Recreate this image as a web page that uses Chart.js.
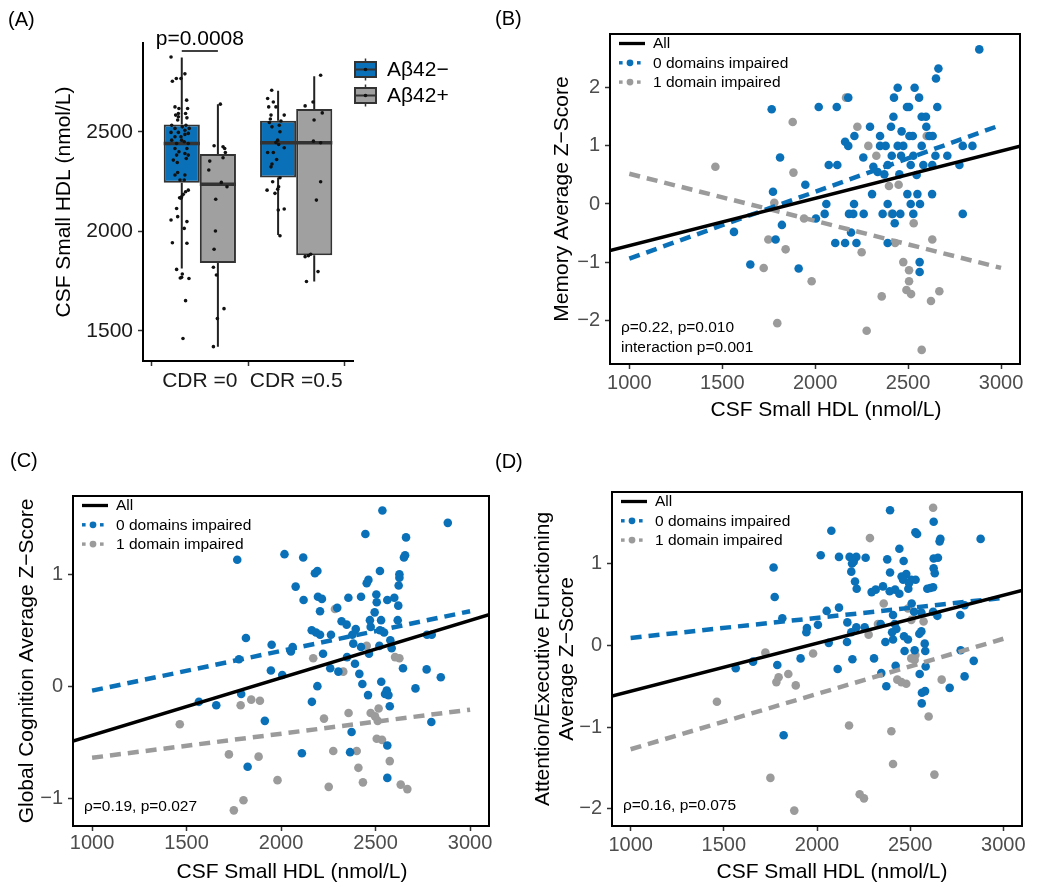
<!DOCTYPE html>
<html>
<head>
<meta charset="utf-8">
<title>CSF Small HDL</title>
<script src="https://cdn.jsdelivr.net/npm/chart.js@4.4.1/dist/chart.umd.min.js"></script>
<style>
  html, body { margin: 0; padding: 0; background: #fff; }
  body { position: relative; width: 1050px; height: 891px; overflow: hidden; font-family: "Liberation Sans", Arial, sans-serif; }
  canvas { position: absolute; }
  .tag { position: absolute; font-size: 20px; line-height: 20px; color: #000; }
</style>
</head>
<body>
<canvas id="chartA" width="480" height="440" style="left:0; top:0;"></canvas>
<canvas id="chartB" width="570" height="440" style="left:480px; top:0;"></canvas>
<canvas id="chartC" width="500" height="451" style="left:0; top:440px;"></canvas>
<canvas id="chartD" width="550" height="451" style="left:500px; top:440px;"></canvas>
<div class="tag" style="left:8px; top:9px;">(A)</div>
<div class="tag" style="left:495px; top:8px;">(B)</div>
<div class="tag" style="left:10px; top:450px;">(C)</div>
<div class="tag" style="left:495px; top:451px;">(D)</div>

<script>
// ---------- Panel A: box plots ----------
const cdrLabels = ['CDR =0', 'CDR =0.5'];
const groupNames = ['A\u03b242\u2212', 'A\u03b242+'];
const aTicks = [1500, 2000, 2500];

// box statistics, one value per CDR group
const negQ1 = [2244, 2271];
const negMed = [2441, 2445];
const negQ3 = [2537, 2555];
const negLo = [1814, 1982];
const negHi = [2873, 2706];
const posQ1 = [1841, 1880];
const posMed = [2237, 2445];
const posQ3 = [2388, 2614];
const posLo = [1421, 1748];
const posHi = [2639, 2779];

const pLabel = 'p=0.0008';
const pBracketY = 2906;

// jittered raw points (x = jittered group position)
const cdr0NegX = [0.701,0.715,0.756,0.804,0.845,0.863,0.742,0.783,0.873,0.852,0.777,0.749,0.777,0.866,0.770,0.856,0.708,0.818,0.845,0.890,0.742,0.777,0.701,0.742,0.804,0.845,0.880,0.708,0.759,0.811,0.838,0.880,0.742,0.783,0.866,0.759,0.880,0.845,0.725,0.766,0.859,0.770,0.742,0.845,0.794,0.838,0.880,0.852,0.828,0.811,0.804,0.790,0.759,0.701,0.770,0.866,0.838,0.715,0.866,0.759,0.818,0.811,0.797,0.887,0.852,0.825];
const cdr0NegY = [2876,2754,2768,2768,2791,2659,2625,2617,2617,2592,2592,2584,2575,2570,2559,2533,2533,2525,2508,2517,2517,2497,2497,2475,2475,2487,2492,2458,2441,2458,2450,2441,2416,2400,2416,2383,2383,2391,2358,2346,2366,2296,2283,2283,2258,2258,2207,2199,2186,2174,2166,2169,2115,2057,2074,2049,2015,1943,1940,1809,1786,1769,1766,1763,1652,1462];
const cdr0PosX = [1.213,1.148,1.241,1.258,1.265,1.103,1.241,1.093,1.223,1.282,1.165,1.162,1.148,1.141,1.172,1.251,1.182,1.141];
const cdr0PosY = [2639,2430,2425,2416,2396,2353,2370,2308,2246,2224,2161,2002,1910,1820,1781,1612,1562,1421];
const cdr05NegX = [1.746,1.704,1.763,1.790,1.715,1.739,1.876,1.732,1.722,1.842,1.749,1.825,1.808,1.790,1.818,1.832,1.704,1.763,1.876,1.797,1.749,1.739,1.832,1.756,1.698,1.818,1.808,1.780,1.814,1.876,1.832];
const cdr05NegY = [2709,2667,2650,2625,2625,2584,2584,2564,2547,2554,2525,2533,2458,2446,2436,2500,2396,2396,2420,2361,2338,2324,2269,2249,2207,2224,2212,2191,2107,2112,1978];
const cdr05PosX = [2.254,2.175,2.093,2.271,2.186,2.179,2.254,2.254,2.210,2.093,2.127,2.151,2.227,2.107];
const cdr05PosY = [2784,2650,2630,2595,2559,2453,2445,2249,2157,1873,1878,1885,1798,1748];

// ---------- Panels B-D: scatter + fits ----------
const xTicks = [1000, 1500, 2000, 2500, 3000];

// (B) Memory
const memZeroX = [2883,2663,2650,2444,2535,2424,2559,2494,2505,2657,1766,2019,2116,2178,2421,2573,2596,2295,2408,2598,2465,2211,2349,2507,2525,2614,2632,2161,2178,2349,2379,2444,2474,2573,2794,2846,1811,2259,2412,2462,2528,2711,2647,2073,2119,2313,2390,2514,2582,2630,2776,2336,2372,2453,2546,1947,1773,2306,2496,2550,2629,2060,2209,2390,2514,2564,2051,2182,2205,2261,2363,2417,2458,2528,2794,2004,1821,2428,1563,2193,1787,2108,2161,2222,2390,2562,2562,1651,1911];
const memZeroY = [2.66,2.33,2.16,2.0,2.0,1.83,1.83,1.67,1.67,1.67,1.63,1.67,1.67,1.83,1.5,1.5,1.5,1.33,1.33,1.33,1.25,1.17,1.17,1.17,1.17,1.17,1.17,1.07,1.0,1.0,1.0,1.0,1.0,1.0,1.0,1.0,0.8,0.8,0.83,0.83,0.83,0.83,0.83,0.67,0.67,0.64,0.67,0.67,0.67,0.67,0.67,0.55,0.51,0.51,0.5,0.33,0.21,0.17,0.17,0.17,0.17,0,0,0,0,0,-0.17,-0.17,-0.17,-0.17,-0.17,-0.17,-0.17,-0.17,-0.17,-0.25,-0.36,-0.33,-0.48,-0.49,-0.61,-0.67,-0.67,-0.67,-0.67,-1.0,-1.17,-1.04,-1.11];
const memOneX = [2166,1879,2227,2600,2286,2329,1463,1883,2397,2449,1780,1940,2412,2530,1748,1841,2250,2430,2630,1723,2474,2505,1981,2505,2358,2491,2516,2623,2668,1796,2277,2573];
const memOneY = [1.83,1.41,1.33,1.17,1.0,0.83,0.64,0.54,0.31,0.33,0.02,-0.25,-0.17,-0.33,-0.61,-0.78,-0.83,-0.67,-0.61,-1.10,-1.0,-1.14,-1.33,-1.33,-1.59,-1.48,-1.55,-1.67,-1.5,-2.05,-2.18,-2.51];
const memAllX = [896, 3102], memAllY = [-0.80, 0.994];
const memZeroFitX = [1000, 3000], memZeroFitY = [-0.94, 1.36];
const memOneFitX = [1000, 3000], memOneFitY = [0.52, -1.10];
const memTicks = [-2, -1, 0, 1, 2];

// (C) Global cognition
const globZeroX = [2536,2882,2446,2661,1768,2018,2117,2656,2650,2523,2179,2192,2626,2626,2462,2453,2622,2077,2119,2195,2216,2356,2423,2504,2506,2562,2599,2620,2297,2495,2206,2320,2470,2529,2474,2617,2347,2395,2162,2185,2206,2264,2377,2523,2545,2772,2797,1814,2382,2423,2520,2578,2585,1950,2061,2052,2222,2349,2465,2391,1777,2260,2303,2645,2770,1946,2414,2006,2845,2430,2530,2192,2711,2559,2550,2568,1789,2460,2575,1565,1657,2163,1914,2795,2373,2562,2365,2110,1823,2562];
const globZeroY = [1.57,1.46,1.36,1.33,1.13,1.18,1.15,1.17,1.15,1.03,1.01,1.03,1.00,0.97,0.95,0.92,0.90,0.89,0.77,0.80,0.78,0.79,0.80,0.82,0.75,0.77,0.79,0.72,0.70,0.66,0.67,0.58,0.59,0.59,0.53,0.59,0.55,0.51,0.50,0.48,0.46,0.46,0.46,0.50,0.48,0.46,0.46,0.43,0.38,0.35,0.36,0.41,0.34,0.37,0.35,0.31,0.29,0.26,0.29,0.20,0.24,0.16,0.13,0.16,0.15,0.14,0.11,0.10,0.08,0.02,0.04,0.00,-0.02,-0.04,-0.07,-0.08,-0.07,-0.08,-0.18,-0.14,-0.17,-0.14,-0.31,-0.32,-0.41,-0.53,-0.59,-0.60,-0.72,-0.82];
const globOneX = [2285,2170,2329,2603,2626,2453,1842,1888,1786,2227,2357,2474,2516,2497,2511,1464,2506,2534,1724,1881,2276,2400,2575,2409,2433,1981,2252,2633,2668,1801,1750];
const globOneY = [0.69,0.25,0.13,0.26,0.25,0.36,-0.12,-0.13,-0.17,-0.29,-0.24,-0.24,-0.20,-0.27,-0.31,-0.34,-0.47,-0.48,-0.61,-0.63,-0.58,-0.58,-0.67,-0.73,-0.86,-0.84,-0.90,-0.88,-0.92,-1.02,-1.11];
const globAllX = [899, 3100], globAllY = [-0.49, 0.64];
const globZeroFitX = [1000, 3000], globZeroFitY = [-0.04, 0.67];
const globOneFitX = [1000, 3000], globOneFitY = [-0.64, -0.21];
const globTicks = [-1, 0, 1];

// (D) Attention / executive functioning
const attnZeroX = [2392,2626,2077,2878,2662,2658,2528,2537,2442,2020,2118,2175,2211,2261,2377,2188,2197,2465,2626,2649,1767,2626,2632,2392,2184,2454,2479,2462,2506,2529,2204,2494,2213,2354,2315,2293,2390,2419,2442,2592,2608,2623,2490,1773,2508,2118,2052,2623,2646,2769,2792,1814,2408,2521,2560,2163,2342,2417,2211,2256,2005,1946,1943,2426,2403,2184,2560,2549,2467,2408,2488,2063,2161,2367,2578,2470,2524,2581,2771,1912,2190,2306,2841,1564,1657,1787,2583,2111,2345,2551,2422,2792,2712,2372,2563,2580,2562,1821];
const attnZeroY = [1.65,1.51,1.40,1.30,1.30,1.27,1.38,1.36,1.18,1.10,1.08,1.08,1.08,1.07,1.05,1.00,1.02,1.03,1.06,1.07,0.95,0.94,0.88,0.89,0.90,0.84,0.87,0.80,0.80,0.80,0.78,0.76,0.69,0.72,0.68,0.65,0.66,0.68,0.63,0.69,0.70,0.71,0.69,0.59,0.51,0.46,0.42,0.41,0.36,0.37,0.49,0.33,0.37,0.41,0.40,0.28,0.26,0.26,0.22,0.22,0.25,0.21,0.16,0.20,0.16,0.16,0.17,0.14,0.11,0.07,0.07,0.03,0.04,0.04,0.02,-0.07,-0.06,-0.07,-0.06,-0.16,-0.17,-0.16,-0.19,-0.28,-0.20,-0.24,-0.26,-0.29,-0.34,-0.35,-0.25,-0.38,-0.52,-0.50,-0.58,-0.56,-0.71,-1.10];
const attnOneX = [2623,2284,2358,2488,2506,2572,2277,2327,1723,1979,2506,2524,2528,1846,1794,1782,1886,2669,2431,2453,2479,1463,2599,2172,2399,2408,2630,1750,2229,2252,1878];
const attnOneY = [1.68,1.31,0.51,0.45,0.31,0.29,0.13,0.26,-0.09,-0.10,-0.16,-0.18,-0.12,-0.35,-0.39,-0.45,-0.49,-0.42,-0.42,-0.45,-0.47,-0.69,-0.87,-0.98,-1.05,-1.45,-1.58,-1.62,-1.82,-1.87,-2.02];
const attnAllX = [900, 3100], attnAllY = [-0.62, 0.67];
const attnZeroFitX = [1000, 3000], attnZeroFitY = [0.09, 0.58];
const attnOneFitX = [1000, 3000], attnOneFitY = [-1.27, 0.08];
const attnTicks = [-2, -1, 0, 1];

// ---------- shared look ----------
const FONT = '"Liberation Sans", Arial, Helvetica, sans-serif';
const BLUE = '#0A71B8';
const GRAY = '#9B9B9B';
const BOX_GRAY = '#A0A0A0';
Chart.defaults.font.family = FONT;

function tickText(v) { return v < 0 ? '\u2212' + Math.abs(v) : String(v); }
function pts(xs, ys) { return xs.map((x, i) => ({x: x, y: ys[i]})); }
function fixedTicks(values) { return axis => { axis.ticks = values.map(v => ({value: v})); }; }

const tickGrid = { display: true, drawOnChartArea: false, drawTicks: true, tickLength: 5, tickColor: '#333', tickWidth: 1.5 };

// ---------- Panel A ----------
const dodge = 0.75;
const half = dodge / 4;   // box centre offset == half box width

function boxSet(label, q1, q3, color) {
    return {
        type: 'bar', label: label,
        data: q1.map((v, i) => ({x: i + 1, y: [v, q3[i]]})),
        backgroundColor: color, borderColor: '#333', borderWidth: 2, borderSkipped: false,
        categoryPercentage: dodge, barPercentage: 1, order: 3
    };
}

// several separate segments in one line dataset, broken by null points
function segSet(segments, width, color, order) {
    const data = [];
    segments.forEach(s => {
        data.push({x: s[0], y: s[1]}, {x: s[2], y: s[3]}, {x: s[2], y: null});
    });
    return { type: 'line', data: data, borderColor: color, borderWidth: width,
             pointRadius: 0, spanGaps: false, fill: false, order: order };
}

const whiskers = [], medians = [];
[[negQ1, negMed, negQ3, negLo, negHi, -1], [posQ1, posMed, posQ3, posLo, posHi, 1]].forEach(g => {
    const [q1, med, q3, lo, hi, side] = g;
    q1.forEach((v, i) => {
        const c = i + 1 + side * half;
        whiskers.push([c, q3[i], c, hi[i]], [c, v, c, lo[i]]);
        medians.push([c - half, med[i], c + half, med[i]]);
    });
});

function dots(xs, ys) {
    return { type: 'scatter', data: pts(xs, ys), pointRadius: 1.8, pointBorderWidth: 0,
             pointBackgroundColor: '#111', order: 1 };
}

const panelAExtras = {
    id: 'panelAExtras',
    afterDraw(chart) {
        const {ctx, chartArea, scales} = chart;
        ctx.save();
        ctx.font = '21px ' + FONT;
        ctx.fillStyle = '#000';
        ctx.textAlign = 'center';
        ctx.textBaseline = 'alphabetic';
        ctx.fillText(pLabel, scales.x.getPixelForValue(1), scales.y.getPixelForValue(pBracketY) - 6);

        // legend
        [BLUE, BOX_GRAY].forEach((fill, i) => {
            const y = chartArea.top + 26.5 + i * 26;
            const x0 = chartArea.right + 2;
            const cx = x0 + 10.5;
            ctx.strokeStyle = '#333';
            ctx.lineWidth = 1.5;
            ctx.beginPath(); ctx.moveTo(cx, y - 11); ctx.lineTo(cx, y + 11); ctx.stroke();
            ctx.fillStyle = fill;
            ctx.fillRect(x0, y - 7.5, 21, 15);
            ctx.lineWidth = 2;
            ctx.strokeRect(x0, y - 7.5, 21, 15);
            ctx.beginPath(); ctx.moveTo(x0, y); ctx.lineTo(x0 + 21, y); ctx.stroke();
            ctx.fillStyle = '#111';
            ctx.beginPath(); ctx.arc(cx, y, 1.8, 0, Math.PI * 2); ctx.fill();
            ctx.fillStyle = '#000';
            ctx.textAlign = 'left';
            ctx.textBaseline = 'middle';
            ctx.fillText(groupNames[i], x0 + 32, y + 1);
        });
        ctx.restore();
    }
};

new Chart(document.getElementById('chartA'), {
    type: 'scatter',
    data: {
        datasets: [
            segSet(whiskers, 2, '#222', 4),
            boxSet(groupNames[0], negQ1, negQ3, BLUE),
            boxSet(groupNames[1], posQ1, posQ3, BOX_GRAY),
            segSet(medians, 3.5, '#333', 2),
            dots(cdr0NegX, cdr0NegY),
            dots(cdr0PosX, cdr0PosY),
            dots(cdr05NegX, cdr05NegY),
            dots(cdr05PosX, cdr05PosY),
            segSet([[1 - half, pBracketY, 1 + half, pBracketY]], 1.5, '#000', 1)
        ]
    },
    options: {
        responsive: false,
        animation: false,
        layout: { padding: { left: 52, right: 127, top: 43, bottom: 39 } },
        plugins: { legend: { display: false }, tooltip: { enabled: false } },
        scales: {
            x: {
                type: 'linear', min: 0.41, max: 2.59, offset: false,
                afterBuildTicks: fixedTicks([1, 2]),
                afterFit: s => { s.height = 40; },
                ticks: { callback: (v, i) => cdrLabels[i], font: { size: 21 }, color: '#1a1a1a', padding: 3, maxRotation: 0, autoSkip: false },
                grid: tickGrid,
                border: { display: true, color: '#000', width: 2 }
            },
            y: {
                type: 'linear', min: 1349, max: 2946,
                afterBuildTicks: fixedTicks(aTicks),
                afterFit: s => { s.width = 91; },
                ticks: { callback: v => String(v), font: { size: 21 }, color: '#1a1a1a', padding: 5 },
                grid: tickGrid,
                border: { display: true, color: '#000', width: 2 },
                title: { display: true, text: 'CSF Small HDL (nmol/L)', color: '#000', font: { size: 21 }, padding: 0 }
            }
        }
    },
    plugins: [panelAExtras]
});

// ---------- Panels B-D ----------
const legendRows = [
    { label: 'All', color: '#000', dashed: false },
    { label: '0 domains impaired', color: BLUE, dashed: true },
    { label: '1 domain impaired', color: GRAY, dashed: true }
];

function panelDecor(p) {
    return {
        id: 'panelDecor',
        afterDatasetsDraw(chart) {
            const {ctx, chartArea: a} = chart;
            ctx.save();
            // frame
            ctx.strokeStyle = '#000';
            ctx.lineWidth = 2;
            ctx.strokeRect(a.left, a.top, a.right - a.left, a.bottom - a.top);

            // legend
            ctx.font = '15.5px ' + FONT;
            ctx.textAlign = 'left';
            ctx.textBaseline = 'middle';
            legendRows.forEach((row, i) => {
                const y = a.top + 9.5 + i * 19.3;
                const x0 = a.left + 9;
                if (!row.dashed) {
                    ctx.strokeStyle = row.color;
                    ctx.lineWidth = 3.3;
                    ctx.beginPath(); ctx.moveTo(x0, y); ctx.lineTo(x0 + 26, y); ctx.stroke();
                } else {
                    ctx.fillStyle = row.color;
                    ctx.fillRect(x0, y - 1.7, 3.6, 3.4);
                    ctx.fillRect(x0 + 18, y - 1.7, 3.6, 3.4);
                    ctx.beginPath(); ctx.arc(x0 + 11, y, 3.4, 0, Math.PI * 2); ctx.fill();
                }
                ctx.fillStyle = '#000';
                ctx.fillText(row.label, a.left + 43, y + 0.5);
            });

            // statistics note
            p.note.forEach((t, i) => {
                ctx.fillText(t, a.left + 11, a.bottom - p.noteBottom - (p.note.length - 1 - i) * 19.4);
            });

            // x axis title
            ctx.font = '21px ' + FONT;
            ctx.textAlign = 'center';
            ctx.fillText('CSF Small HDL (nmol/L)', (a.left + a.right) / 2 + p.xTitleShift, a.bottom + 46.5);
            ctx.restore();
        }
    };
}

function scatterPanel(canvasId, p) {
    const fitLine = (xs, ys, color, dash, width) => ({
        data: pts(xs, ys), showLine: true, borderColor: color, borderWidth: width,
        borderDash: dash, borderCapStyle: 'butt', pointRadius: 0, order: 0
    });
    const cloud = (xs, ys, color, order) => ({
        data: pts(xs, ys), pointRadius: 4.3, pointBorderWidth: 0,
        pointBackgroundColor: color, backgroundColor: color, order: order
    });
    return new Chart(document.getElementById(canvasId), {
        type: 'scatter',
        data: {
            datasets: [
                fitLine(p.allX, p.allY, '#000', [], 3.5),
                fitLine(p.zeroFitX, p.zeroFitY, BLUE, [11, 7], 4.5),
                fitLine(p.oneFitX, p.oneFitY, GRAY, [11, 7], 4.5),
                cloud(p.zeroX, p.zeroY, BLUE, 1),
                cloud(p.oneX, p.oneY, GRAY, 2)
            ]
        },
        options: {
            responsive: false,
            animation: false,
            layout: { padding: p.padding },
            plugins: { legend: { display: false }, tooltip: { enabled: false } },
            scales: {
                x: {
                    type: 'linear', min: p.xMin, max: p.xMax,
                    afterBuildTicks: fixedTicks(xTicks),
                    afterFit: s => { s.height = 59; },
                    ticks: { callback: v => tickText(v), font: { size: 20 }, color: '#4D4D4D', padding: p.xTickPad, maxRotation: 0, autoSkip: false },
                    grid: tickGrid,
                    border: { display: false }
                },
                y: {
                    type: 'linear', min: p.yMin, max: p.yMax,
                    afterBuildTicks: fixedTicks(p.yTicks),
                    afterFit: s => { s.width = p.yAxisWidth; },
                    ticks: { callback: v => tickText(v), font: { size: 20 }, color: '#4D4D4D', padding: 5 },
                    grid: tickGrid,
                    border: { display: false },
                    title: { display: true, text: p.yTitle, color: '#000', font: { size: 21, lineHeight: 1.15 }, padding: 0 }
                }
            }
        },
        plugins: [panelDecor(p)]
    });
}

scatterPanel('chartB', {
    zeroX: memZeroX, zeroY: memZeroY, oneX: memOneX, oneY: memOneY,
    allX: memAllX, allY: memAllY, zeroFitX: memZeroFitX, zeroFitY: memZeroFitY, oneFitX: memOneFitX, oneFitY: memOneFitY,
    xMin: 896, xMax: 3102, yMin: -2.753, yMax: 2.925, yTicks: memTicks,
    yTitle: 'Memory Average Z\u2212Score',
    note: ['\u03c1=0.22, p=0.010', 'interaction p=0.001'], noteBottom: 16.5,
    padding: { left: 70, right: 30, top: 34, bottom: 17 }, yAxisWidth: 60, xTickPad: 2, xTitleShift: 11
});

scatterPanel('chartC', {
    zeroX: globZeroX, zeroY: globZeroY, oneX: globOneX, oneY: globOneY,
    allX: globAllX, allY: globAllY, zeroFitX: globZeroFitX, zeroFitY: globZeroFitY, oneFitX: globOneFitX, oneFitY: globOneFitY,
    xMin: 899, xMax: 3100, yMin: -1.25, yMax: 1.70, yTicks: globTicks,
    yTitle: 'Global Cognition Average Z\u2212Score',
    note: ['\u03c1=0.19, p=0.027'], noteBottom: 19.5,
    padding: { left: 15, right: 11, top: 56, bottom: 6 }, yAxisWidth: 58, xTickPad: 0, xTitleShift: 11
});

scatterPanel('chartD', {
    zeroX: attnZeroX, zeroY: attnZeroY, oneX: attnOneX, oneY: attnOneY,
    allX: attnAllX, allY: attnAllY, zeroFitX: attnZeroFitX, zeroFitY: attnZeroFitY, oneFitX: attnOneFitX, oneFitY: attnOneFitY,
    xMin: 900, xMax: 3100, yMin: -2.208, yMax: 1.873, yTicks: attnTicks,
    yTitle: ['Attention/Executive Functioning', 'Average Z\u2212Score'],
    note: ['\u03c1=0.16, p=0.075'], noteBottom: 20,
    padding: { left: 31, right: 28, top: 52, bottom: 6 }, yAxisWidth: 81, xTickPad: 2, xTitleShift: 15
});
</script>
</body>
</html>
